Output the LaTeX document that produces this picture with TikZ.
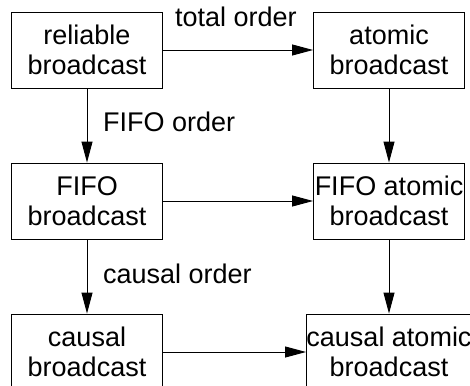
\documentclass[tikz,border=0pt]{standalone}
\usepackage{fontspec}
\setmainfont{Liberation Sans}
\usetikzlibrary{arrows.meta}
\begin{document}
\begin{tikzpicture}[x=1pt,y=1pt,
  box/.style={draw=black, line width=0.9pt, minimum width=151pt, minimum height=76pt, inner sep=0pt, align=center, font=\fontsize{27}{30}\selectfont},
  lbl/.style={anchor=base west, inner sep=0pt, font=\fontsize{27}{30}\selectfont},
  conn/.style={draw=black, line width=0.9pt, -{Triangle[length=21pt,width=11pt]}}]
\path[use as bounding box] (0,0) rectangle (470,-385);
\node[box] (rb) at (87,-50) {reliable\\broadcast};
\node[box] (ab) at (389,-50) {atomic\\broadcast};
\node[box] (fb) at (87,-201) {FIFO\\broadcast};
\node[box] (fab) at (389,-201) {FIFO atomic\\broadcast};
\node[box] (cb) at (87,-352) {causal\\broadcast};
\node[box] (cab) at (389,-352) {causal atomic\\broadcast};
\draw[conn] (rb) -- (ab);
\draw[conn] (fb) -- (fab);
\draw[conn] (cb) -- (cab);
\draw[conn] (rb) -- (fb);
\draw[conn] (fb) -- (cb);
\draw[conn] (ab) -- (fab);
\draw[conn] (fab) -- (cab);
\node[lbl] (t1) at (175,-26.7) {total order};
\node[lbl] (t2) at (103,-131.7) {FIFO order};
\node[lbl] (t3) at (103,-283) {causal order};
\end{tikzpicture}
\end{document}
